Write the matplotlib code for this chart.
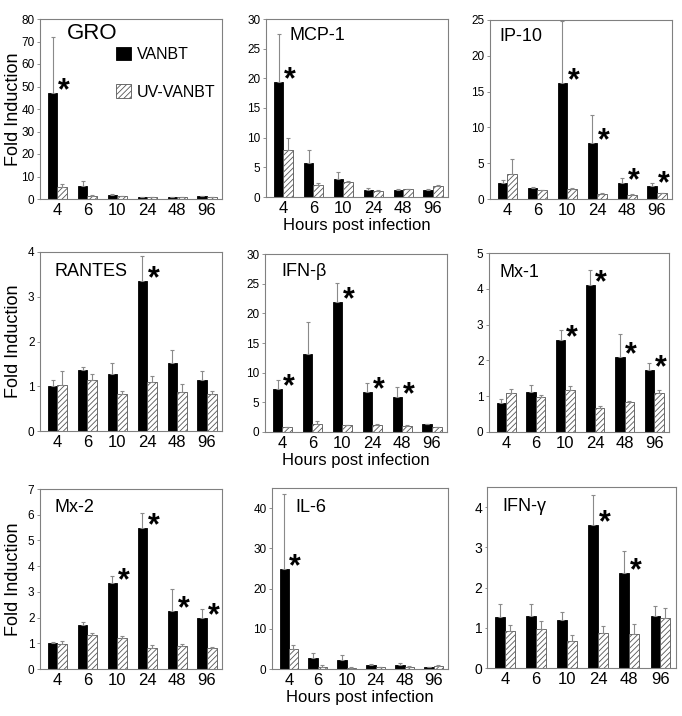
import numpy as np
import matplotlib
matplotlib.use('Agg')
import matplotlib.pyplot as plt
import matplotlib.transforms as mtransforms

plt.rcParams['font.family'] = ['Liberation Sans', 'DejaVu Sans']
plt.rcParams['hatch.linewidth'] = 0.6

axesFont = {'size': 13}
xlabelFont = {'size': 12}
xticksFont = {'size': 12}
yticksFont = {'size': 8.5}
starStyle = {'size': 22, 'fontweight': 'bold', 'ha': 'center', 'va': 'center'}
errorStyle = {'ecolor': '#8a8a8a', 'elinewidth': 0.8, 'capsize': 1.5, 'capthick': 0.8}

hours = ['4', '6', '10', '24', '48', '96']

# fold induction (bar heights) and upper error bar ends
groVanbt = [47, 6.0, 2.0, 1.0, 0.8, 1.2]
groVanbtTop = [72, 8.0, 2.2, 1.1, 1.0, 1.3]
groUv = [5.5, 1.5, 1.2, 1.0, 1.0, 1.0]
groUvTop = [6.5, 1.8, 1.3, 1.1, 1.1, 1.1]

mcpVanbt = [19.3, 5.7, 3.1, 1.2, 1.2, 1.2]
mcpVanbtTop = [27.5, 8.0, 4.2, 1.5, 1.4, 1.3]
mcpUv = [7.9, 2.0, 2.5, 1.0, 1.3, 1.9]
mcpUvTop = [10.0, 2.3, 2.7, 1.1, 1.4, 2.1]

ip10Vanbt = [2.3, 1.5, 16.2, 7.8, 2.2, 1.8]
ip10VanbtTop = [2.6, 1.7, 24.8, 11.8, 3.0, 2.2]
ip10Uv = [3.5, 1.2, 1.4, 0.7, 0.6, 0.8]
ip10UvTop = [5.6, 1.25, 1.5, 0.8, 0.7, 0.9]

rantesVanbt = [1.0, 1.37, 1.27, 3.35, 1.52, 1.15]
rantesVanbtTop = [1.13, 1.44, 1.51, 3.9, 1.82, 1.34]
rantesUv = [1.02, 1.15, 0.82, 1.09, 0.88, 0.82]
rantesUvTop = [1.33, 1.27, 0.9, 1.22, 1.05, 0.9]

ifnbVanbt = [7.3, 13.1, 21.9, 6.7, 5.9, 1.3]
ifnbVanbtTop = [8.8, 18.6, 25.1, 8.2, 7.6, 1.4]
ifnbUv = [0.8, 1.3, 1.1, 1.1, 1.0, 0.8]
ifnbUvTop = [0.9, 1.8, 1.15, 1.3, 1.2, 0.9]

mx1Vanbt = [0.8, 1.13, 2.57, 4.1, 2.1, 1.72]
mx1VanbtTop = [0.92, 1.3, 2.85, 4.52, 2.75, 1.92]
mx1Uv = [1.08, 0.98, 1.17, 0.68, 0.83, 1.1]
mx1UvTop = [1.19, 1.03, 1.28, 0.72, 0.87, 1.18]

mx2Vanbt = [1.03, 1.7, 3.33, 5.5, 2.27, 1.98]
mx2VanbtTop = [1.05, 1.83, 3.62, 6.08, 3.13, 2.35]
mx2Uv = [0.98, 1.33, 1.2, 0.82, 0.91, 0.8]
mx2UvTop = [1.1, 1.41, 1.27, 0.95, 0.99, 0.87]

il6Vanbt = [24.8, 2.7, 2.3, 1.0, 1.0, 0.4]
il6VanbtTop = [43.5, 4.0, 3.5, 1.2, 1.4, 0.5]
il6Uv = [5.0, 0.5, 0.3, 0.4, 0.6, 0.7]
il6UvTop = [6.0, 1.0, 0.4, 0.5, 0.7, 0.9]

ifngVanbt = [1.28, 1.29, 1.2, 3.56, 2.35, 1.29]
ifngVanbtTop = [1.58, 1.6, 1.4, 4.3, 2.9, 1.55]
ifngUv = [0.92, 0.96, 0.67, 0.86, 0.84, 1.25]
ifngUvTop = [1.07, 1.17, 0.83, 1.04, 1.1, 1.5]

# significance stars (index of time point)
groStars = [0]
mcpStars = [0]
ip10Stars = [2, 3, 4, 5]
rantesStars = [3]
ifnbStars = [0, 2, 3, 4]
mx1Stars = [2, 3, 4, 5]
mx2Stars = [2, 3, 4, 5]
il6Stars = [0]
ifngStars = [3, 4]

panels = [
    # name, vanbt, vanbtTop, uv, uvTop, stars, ymax, ystep, axes box (px l, r, top, bottom), title pos, title size
    ('GRO', groVanbt, groVanbtTop, groUv, groUvTop, groStars, 80, 10, (40, 222, 19, 199), (0.15, 0.92), 16),
    ('MCP-1', mcpVanbt, mcpVanbtTop, mcpUv, mcpUvTop, mcpStars, 30, 5, (266, 448, 19, 197), (0.13, 0.91), 13),
    ('IP-10', ip10Vanbt, ip10VanbtTop, ip10Uv, ip10UvTop, ip10Stars, 25, 5, (490, 672, 20, 199), (0.05, 0.91), 13),
    ('RANTES', rantesVanbt, rantesVanbtTop, rantesUv, rantesUvTop, rantesStars, 4, 1, (40, 222, 252, 431), (0.08, 0.89), 13),
    ('IFN-β', ifnbVanbt, ifnbVanbtTop, ifnbUv, ifnbUvTop, ifnbStars, 30, 5, (265, 447, 254, 432), (0.09, 0.90), 13),
    ('Mx-1', mx1Vanbt, mx1VanbtTop, mx1Uv, mx1UvTop, mx1Stars, 5, 1, (489, 669, 253, 432), (0.06, 0.89), 13),
    ('Mx-2', mx2Vanbt, mx2VanbtTop, mx2Uv, mx2UvTop, mx2Stars, 7, 1, (40, 222, 489, 669), (0.08, 0.90), 13),
    ('IL-6', il6Vanbt, il6VanbtTop, il6Uv, il6UvTop, il6Stars, 45, 10, (272, 448, 488, 669), (0.13, 0.89), 13),
    ('IFN-γ', ifngVanbt, ifngVanbtTop, ifngUv, ifngUvTop, ifngStars, 4.5, 1, (487, 676, 487, 668), (0.08, 0.89), 13),
]

W, H = 682, 716
fig = plt.figure(figsize=(W / 100, H / 100), dpi=100)

x = np.arange(len(hours))
bw = 0.32

for i, (name, v, vTop, uv, uvTop, stars, ymax, ystep, box, tpos, tsize) in enumerate(panels):
    l, r, t, b = box
    ax = fig.add_axes([l / W, 1 - b / H, (r - l) / W, (b - t) / H])
    v = np.array(v)
    uv = np.array(uv)
    vErr = [np.zeros(len(v)), np.array(vTop) - v]
    uvErr = [np.zeros(len(uv)), np.array(uvTop) - uv]

    b1 = ax.bar(x - bw / 2, v, bw, color='black', edgecolor='black', linewidth=0.6, label='VANBT')
    b2 = ax.bar(x + bw / 2, uv, bw, color='white', edgecolor='#555555', hatch='//////',
                linewidth=0.6, label='UV-VANBT')
    ax.errorbar(x - bw / 2, v, yerr=vErr, fmt='none', zorder=1, **errorStyle)
    ax.errorbar(x + bw / 2, uv, yerr=uvErr, fmt='none', zorder=3, **errorStyle)

    for s in stars:
        ax.text(x[s] + bw / 2 + 0.05, v[s] + 0.01 * ymax, '*', **starStyle)

    yt = np.arange(0, ymax + 0.01, ystep)
    ax.set_xlim(-0.58, 5.5)
    ax.set_ylim(0, ymax)
    ax.set_yticks(yt)
    ax.set_yticklabels([f'{t:g}' for t in yt], **yticksFont)
    ax.set_xticks(x)
    ax.set_xticklabels(hours, **xticksFont)
    ax.tick_params(axis='x', length=0, pad=3)
    ax.tick_params(axis='y', length=2, width=0.6, color='#808080', pad=2)
    for sp in ax.spines.values():
        sp.set_color('#808080')
        sp.set_linewidth(0.8)

    if name == 'IFN-γ':
        # labels sit a little above their ticks in this panel
        shift = mtransforms.ScaledTranslation(0, 8 / 100, fig.dpi_scale_trans)
        for lab in ax.get_yticklabels():
            lab.set_transform(lab.get_transform() + shift)
            lab.set_fontsize(10)
        ax.tick_params(axis='y', length=1.5)

    ax.text(tpos[0], tpos[1], name, transform=ax.transAxes, ha='left', va='center', size=tsize)

    if i % 3 == 0:
        ax.set_ylabel('Fold Induction', **axesFont)
        ax.yaxis.set_label_coords(-0.10, 0.5)
    if i % 3 == 1:
        ax.set_xlabel('Hours post infection', labelpad=1, **xlabelFont)
    if i == 0:
        ax.legend(handles=[b1, b2], loc='upper left', bbox_to_anchor=(0.34, 0.925), frameon=False,
                  handlelength=0.9, handleheight=0.9, handletextpad=0.4, labelspacing=1.4,
                  prop={'family': 'Liberation Sans', 'size': 11.5})

plt.savefig('out.png', dpi=100)
